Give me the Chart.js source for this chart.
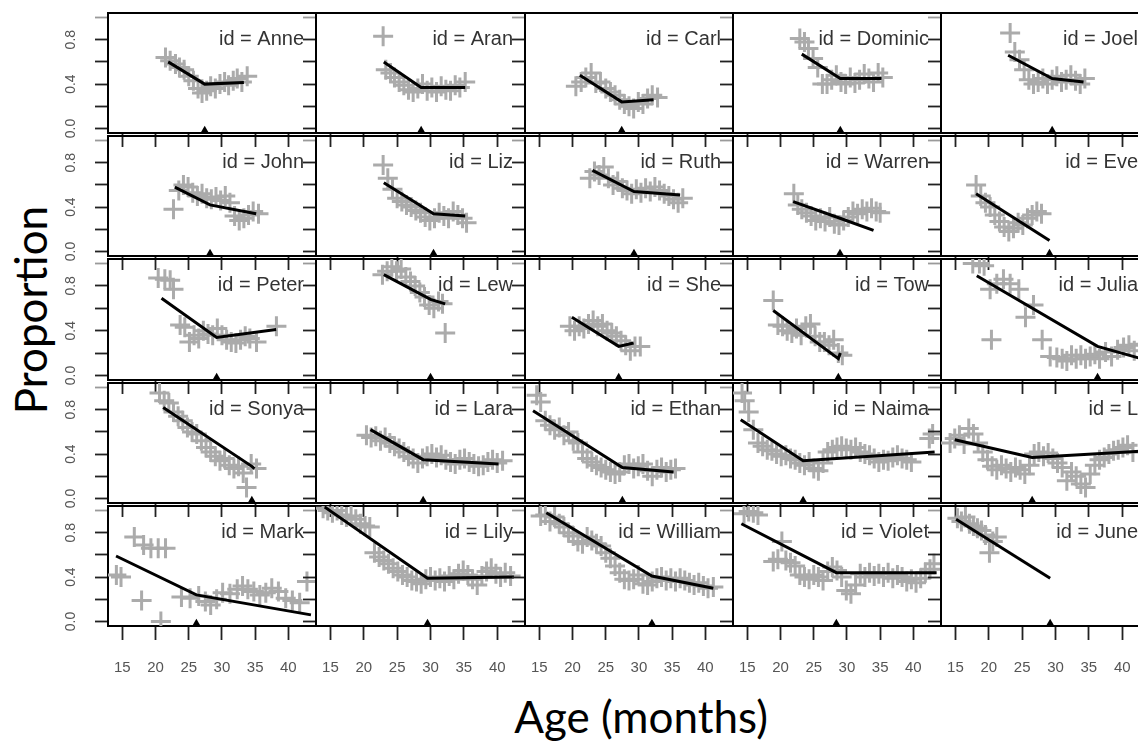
<!DOCTYPE html>
<html>
<head>
<meta charset="utf-8">
<title>Proportion by age, per child</title>
<script src="https://cdn.jsdelivr.net/npm/chart.js@4.4.1/dist/chart.umd.min.js"></script>
<style>
  html, body { margin: 0; padding: 0; background: #fff; }
  #wrap { position: relative; width: 1138px; height: 744px; overflow: hidden; background: #fff; }
  canvas.panel { position: absolute; }
  .axis-title { position: absolute; font-family: Lato, "Open Sans", sans-serif; font-size: 44px; line-height: 1; color: #000; white-space: nowrap; }
  #xTitle { left: 641px; top: 694px; transform: translateX(-50%); }
  #yTitle { left: 30px; top: 310px; transform: translate(-50%, -50%) rotate(-90deg); }
</style>
</head>
<body>
<div id="wrap">
  <div id="yTitle" class="axis-title">Proportion</div>
  <div id="xTitle" class="axis-title">Age (months)</div>
</div>
<script>
// Children, in panel order (left to right, top to bottom)
const ids = ['Anne', 'Aran', 'Carl', 'Dominic', 'Joel',
             'John', 'Liz', 'Ruth', 'Warren', 'Eve',
             'Peter', 'Lew', 'She', 'Tow', 'Julia',
             'Sonya', 'Lara', 'Ethan', 'Naima', 'L',
             'Mark', 'Lily', 'William', 'Violet', 'June'];

// Observed [age in months, proportion] for each child
const idAnne = [[21.5,0.64],[22.2,0.61],[23.0,0.58],[23.6,0.55],[24.3,0.53],[25.0,0.47],[25.7,0.43],[26.4,0.36],[27.0,0.32],[27.7,0.34],[28.3,0.38],[29.0,0.36],[29.7,0.40],[30.4,0.42],[31.0,0.39],[31.7,0.43],[32.3,0.45],[33.0,0.42],[33.8,0.47]];
const idAran = [[22.9,0.83],[23.3,0.53],[24.0,0.50],[24.6,0.46],[25.3,0.42],[26.0,0.39],[26.7,0.35],[27.4,0.33],[28.1,0.36],[28.8,0.40],[29.5,0.34],[30.2,0.37],[30.9,0.33],[31.6,0.38],[32.3,0.35],[33.0,0.34],[33.7,0.39],[34.4,0.37],[35.2,0.42]];
const idCarl = [[20.5,0.38],[21.3,0.42],[22.0,0.46],[22.8,0.50],[23.5,0.41],[24.2,0.42],[25.0,0.36],[25.7,0.33],[26.4,0.30],[27.1,0.26],[27.8,0.22],[28.5,0.20],[29.2,0.18],[29.9,0.24],[30.6,0.22],[31.3,0.27],[32.0,0.30],[32.8,0.28]];
const idDominic = [[22.9,0.81],[23.6,0.78],[24.2,0.72],[24.9,0.63],[25.6,0.55],[26.3,0.40],[27.0,0.40],[27.7,0.44],[28.4,0.48],[29.1,0.42],[29.8,0.40],[30.5,0.46],[31.2,0.41],[31.9,0.44],[32.6,0.49],[33.3,0.45],[34.0,0.42],[34.7,0.50],[35.4,0.46]];
const idJoel = [[23.2,0.86],[23.9,0.69],[24.6,0.62],[25.3,0.53],[26.0,0.44],[26.7,0.40],[27.4,0.42],[28.1,0.45],[28.8,0.40],[29.5,0.44],[30.2,0.47],[30.9,0.42],[31.6,0.44],[32.3,0.48],[33.0,0.43],[33.7,0.40],[34.4,0.45]];
const idJohn = [[22.7,0.38],[23.5,0.55],[24.2,0.60],[24.9,0.58],[25.6,0.53],[26.3,0.50],[27.0,0.52],[27.7,0.48],[28.4,0.47],[29.1,0.49],[29.8,0.46],[30.5,0.50],[31.2,0.44],[31.9,0.32],[32.6,0.28],[33.3,0.30],[34.0,0.33],[34.7,0.36],[35.5,0.34]];
const idLiz = [[22.9,0.78],[23.6,0.66],[24.3,0.56],[25.0,0.48],[25.7,0.45],[26.4,0.42],[27.1,0.40],[27.8,0.37],[28.5,0.35],[29.2,0.31],[29.9,0.28],[30.6,0.30],[31.3,0.35],[32.0,0.32],[32.7,0.30],[33.4,0.36],[34.1,0.33],[34.8,0.30],[35.4,0.26]];
const idRuth = [[22.6,0.66],[23.3,0.72],[24.0,0.69],[24.7,0.76],[25.4,0.66],[26.1,0.60],[26.8,0.63],[27.5,0.57],[28.2,0.55],[28.9,0.52],[29.6,0.56],[30.3,0.53],[31.0,0.57],[31.7,0.54],[32.4,0.58],[33.1,0.55],[33.8,0.52],[34.5,0.50],[35.2,0.47],[35.9,0.44],[36.6,0.48]];
const idWarren = [[22.0,0.52],[22.6,0.42],[23.2,0.38],[23.9,0.35],[24.6,0.32],[25.3,0.28],[26.0,0.30],[26.7,0.27],[27.4,0.31],[28.1,0.25],[28.8,0.24],[29.5,0.28],[30.2,0.31],[30.9,0.36],[31.6,0.34],[32.3,0.38],[33.0,0.36],[33.7,0.39],[34.4,0.36],[35.0,0.35]];
const idEve = [[18.1,0.60],[18.8,0.50],[19.5,0.44],[20.2,0.40],[20.9,0.33],[21.6,0.27],[22.3,0.22],[23.0,0.18],[23.7,0.21],[24.4,0.26],[25.1,0.24],[25.8,0.30],[26.5,0.33],[27.2,0.36],[27.9,0.34]];
const idPeter = [[20.4,0.87],[21.4,0.86],[22.2,0.85],[22.7,0.77],[23.7,0.45],[24.4,0.43],[25.1,0.30],[25.8,0.36],[26.5,0.33],[27.2,0.40],[27.9,0.37],[28.6,0.36],[29.3,0.42],[30.0,0.36],[30.7,0.32],[31.4,0.30],[32.1,0.29],[32.8,0.32],[33.5,0.35],[34.2,0.33],[35.2,0.30],[38.2,0.44]];
const idLew = [[22.8,0.90],[23.5,0.93],[24.2,0.97],[24.9,0.93],[25.6,0.95],[26.3,0.88],[27.0,0.84],[27.7,0.80],[28.4,0.74],[29.1,0.70],[29.8,0.63],[30.5,0.60],[31.2,0.66],[31.8,0.64],[32.2,0.38]];
const idShe = [[19.6,0.44],[20.3,0.40],[21.0,0.44],[21.7,0.42],[22.4,0.46],[23.1,0.49],[23.8,0.44],[24.5,0.46],[25.2,0.40],[25.9,0.38],[26.6,0.35],[27.3,0.31],[28.0,0.27],[28.7,0.22],[29.4,0.26],[30.2,0.26]];
const idTow = [[18.9,0.67],[19.6,0.45],[20.3,0.44],[21.0,0.40],[21.7,0.38],[22.4,0.42],[23.1,0.36],[23.8,0.44],[24.5,0.46],[25.2,0.35],[25.9,0.30],[26.6,0.30],[27.3,0.27],[28.0,0.32],[28.7,0.20],[29.3,0.18]];
const idJulia = [[17.6,1.00],[18.6,1.00],[19.3,0.98],[20.2,0.77],[20.4,0.32],[21.2,0.82],[22.2,0.86],[23.2,0.82],[24.5,0.77],[25.5,0.52],[26.7,0.63],[28.0,0.32],[29.2,0.17],[30.2,0.16],[31.0,0.15],[31.7,0.13],[32.4,0.18],[33.1,0.15],[33.8,0.18],[34.5,0.15],[35.2,0.17],[35.9,0.19],[36.6,0.15],[37.5,0.21],[38.4,0.17],[39.3,0.23],[40.2,0.25],[41.0,0.27],[41.8,0.22],[42.6,0.28]];
const idSonya = [[20.6,0.95],[21.3,0.88],[22.0,0.86],[22.7,0.78],[23.4,0.74],[24.1,0.70],[24.8,0.64],[25.5,0.60],[26.2,0.58],[26.9,0.52],[27.6,0.46],[28.3,0.42],[29.0,0.38],[29.7,0.34],[30.4,0.36],[31.1,0.30],[31.8,0.27],[32.5,0.29],[33.2,0.23],[33.7,0.10],[34.4,0.31],[35.2,0.27]];
const idLara = [[20.4,0.57],[21.1,0.55],[21.8,0.56],[22.5,0.52],[23.2,0.55],[23.9,0.50],[24.6,0.47],[25.3,0.45],[26.0,0.42],[26.7,0.38],[27.4,0.36],[28.1,0.32],[28.8,0.36],[29.5,0.38],[30.2,0.40],[30.9,0.37],[31.6,0.39],[32.3,0.35],[33.0,0.33],[33.7,0.31],[34.4,0.35],[35.1,0.36],[35.8,0.33],[36.5,0.31],[37.2,0.29],[37.9,0.30],[38.6,0.33],[39.3,0.35],[40.0,0.32],[40.8,0.34]];
const idEthan = [[14.6,0.93],[15.2,0.87],[15.9,0.70],[16.6,0.66],[17.3,0.62],[18.0,0.64],[18.7,0.57],[19.4,0.60],[20.1,0.52],[20.8,0.50],[21.5,0.42],[22.2,0.36],[22.9,0.33],[23.6,0.30],[24.3,0.28],[25.0,0.26],[25.7,0.24],[26.4,0.22],[27.1,0.24],[27.8,0.30],[28.5,0.31],[29.2,0.27],[29.9,0.29],[30.6,0.31],[31.3,0.25],[32.0,0.20],[32.7,0.26],[33.4,0.28],[34.1,0.24],[34.8,0.26],[35.5,0.27]];
const idNaima = [[14.2,0.95],[14.6,0.88],[15.2,0.78],[15.9,0.62],[16.6,0.50],[17.3,0.47],[18.0,0.44],[18.7,0.43],[19.4,0.40],[20.1,0.38],[20.8,0.39],[21.5,0.36],[22.2,0.35],[22.9,0.32],[23.6,0.30],[24.3,0.33],[25.0,0.27],[25.7,0.25],[26.4,0.32],[27.1,0.42],[27.8,0.44],[28.5,0.46],[29.2,0.47],[29.9,0.45],[30.6,0.44],[31.3,0.46],[32.0,0.42],[32.7,0.40],[33.4,0.39],[34.1,0.36],[34.8,0.33],[35.5,0.35],[36.2,0.34],[36.9,0.37],[37.6,0.39],[38.3,0.36],[39.0,0.35],[39.7,0.33],[42.4,0.54],[42.9,0.58]];
const idL = [[14.2,0.50],[14.9,0.54],[15.6,0.57],[16.3,0.49],[17.0,0.63],[17.7,0.58],[18.4,0.50],[19.1,0.42],[19.8,0.35],[20.5,0.29],[21.2,0.26],[21.9,0.30],[22.6,0.27],[23.3,0.24],[24.0,0.28],[24.7,0.26],[25.4,0.22],[26.1,0.30],[26.8,0.40],[27.5,0.42],[28.2,0.38],[28.9,0.41],[29.6,0.36],[30.3,0.32],[31.0,0.28],[31.7,0.16],[32.4,0.24],[33.1,0.20],[33.8,0.13],[34.5,0.10],[35.2,0.22],[35.9,0.30],[36.6,0.35],[37.3,0.37],[38.0,0.40],[38.7,0.43],[39.4,0.44],[40.1,0.46],[40.8,0.48],[41.6,0.42]];
const idMark = [[14.1,0.42],[14.8,0.40],[16.8,0.76],[18.2,0.69],[19.3,0.66],[20.4,0.66],[21.5,0.66],[17.9,0.19],[20.8,0.00],[23.9,0.22],[25.2,0.21],[26.5,0.23],[27.5,0.18],[28.3,0.15],[29.2,0.20],[30.1,0.26],[31.2,0.25],[32.3,0.29],[33.1,0.32],[33.9,0.29],[34.8,0.27],[35.7,0.24],[36.6,0.26],[37.5,0.30],[38.5,0.27],[39.6,0.21],[40.6,0.19],[41.7,0.17],[42.8,0.36]];
const idLily = [[13.9,1.02],[14.6,1.00],[15.3,0.98],[16.0,1.00],[16.7,0.96],[17.4,0.94],[18.1,0.95],[18.8,0.92],[19.5,0.88],[20.2,0.86],[20.9,0.85],[21.6,0.62],[22.3,0.58],[23.0,0.55],[23.7,0.52],[24.4,0.48],[25.1,0.45],[25.8,0.42],[26.5,0.40],[27.2,0.37],[27.9,0.36],[28.6,0.34],[29.3,0.38],[30.0,0.40],[30.7,0.37],[31.4,0.39],[32.1,0.36],[32.8,0.41],[33.5,0.38],[34.2,0.43],[34.9,0.46],[35.6,0.42],[36.3,0.38],[37.0,0.33],[37.7,0.41],[38.4,0.45],[39.1,0.48],[39.8,0.43],[40.5,0.40],[41.2,0.44],[42.0,0.41]];
const idWilliam = [[15.2,0.95],[15.9,0.96],[16.6,0.90],[17.3,0.94],[18.0,0.88],[18.7,0.85],[19.4,0.80],[20.1,0.77],[20.8,0.72],[21.5,0.70],[22.2,0.76],[22.9,0.73],[23.6,0.70],[24.3,0.68],[25.0,0.62],[25.7,0.57],[26.4,0.50],[27.1,0.44],[27.8,0.38],[28.5,0.37],[29.2,0.38],[29.9,0.42],[30.6,0.34],[31.3,0.33],[32.0,0.36],[32.7,0.39],[33.4,0.40],[34.1,0.37],[34.8,0.39],[35.5,0.36],[36.2,0.39],[36.9,0.37],[37.6,0.35],[38.3,0.33],[39.0,0.35],[39.7,0.32],[40.4,0.30],[41.2,0.31]];
const idViolet = [[14.5,0.97],[15.2,0.99],[15.9,0.98],[16.6,0.96],[18.9,0.54],[19.6,0.56],[20.2,0.72],[20.8,0.55],[21.5,0.53],[22.2,0.50],[22.9,0.42],[23.6,0.40],[24.3,0.38],[25.0,0.42],[25.7,0.40],[26.4,0.37],[27.1,0.45],[27.8,0.49],[28.5,0.46],[29.2,0.40],[29.9,0.28],[30.6,0.25],[31.3,0.33],[32.0,0.43],[32.7,0.40],[33.4,0.44],[34.1,0.41],[34.8,0.43],[35.5,0.40],[36.2,0.44],[36.9,0.39],[37.6,0.42],[38.3,0.40],[39.0,0.36],[39.7,0.38],[40.4,0.35],[41.1,0.39],[41.8,0.44],[42.5,0.47],[43.1,0.52]];
const idJune = [[15.3,0.93],[15.9,0.90],[16.5,0.94],[17.1,0.88],[17.7,0.86],[18.3,0.84],[18.9,0.82],[19.5,0.78],[20.1,0.62],[20.6,0.72],[21.2,0.76]];

// Piecewise-linear fit per child: first age, breakpoint age, last age with fitted proportions
const fitStart = [[21.9,0.60],[23.0,0.60],[21.1,0.48],[23.2,0.67],[22.9,0.66],
                  [22.9,0.58],[23.0,0.62],[23.0,0.73],[21.9,0.45],[18.1,0.52],
                  [20.9,0.69],[23.0,0.90],[19.9,0.52],[18.9,0.58],[18.2,0.89],
                  [21.15,0.82],[21.0,0.62],[14.05,0.79],[14.0,0.71],[14.9,0.53],
                  [14.05,0.59],[14.15,1.03],[16.05,0.98],[14.1,0.88],[15.1,0.92]];
const fitBreak = [[27.4,0.40],[28.6,0.37],[27.4,0.24],[29.0,0.45],[29.5,0.45],
                  [28.2,0.42],[30.45,0.34],[29.25,0.54],[28.95,0.30],[29.1,0.10],
                  [29.2,0.34],[30.0,0.68],[26.95,0.26],[28.7,0.15],[36.3,0.26],
                  [34.5,0.29],[28.9,0.35],[27.5,0.28],[23.4,0.34],[26.5,0.37],
                  [26.15,0.24],[29.55,0.39],[31.95,0.41],[28.4,0.44],[29.2,0.39]];
const fitEnd = [[33.3,0.415],[35.2,0.37],[32.2,0.26],[35.2,0.45],[34.2,0.42],
                [35.15,0.34],[35.2,0.32],[36.2,0.51],[34.0,0.19],[29.1,0.10],
                [38.15,0.41],[32.2,0.64],[29.2,0.29],[29.0,0.20],[43.5,0.14],
                [34.9,0.27],[40.2,0.31],[35.2,0.24],[43.2,0.42],[44.0,0.43],
                [43.4,0.06],[42.5,0.40],[41.2,0.30],[43.5,0.44],[29.2,0.39]];

// Axis ticks and labels
const ageTicks = [15, 20, 25, 30, 35, 40];
const propTicks = [0, 0.2, 0.4, 0.6, 0.8, 1.0];
const propLabelled = [0, 0.4, 0.8];

const observations = [idAnne, idAran, idCarl, idDominic, idJoel,
                      idJohn, idLiz, idRuth, idWarren, idEve,
                      idPeter, idLew, idShe, idTow, idJulia,
                      idSonya, idLara, idEthan, idNaima, idL,
                      idMark, idLily, idWilliam, idViolet, idJune];

// Shared axis ranges (data range padded by 4% on each side)
const AGE_MIN = 12.84, AGE_MAX = 44.16;
const PROP_MIN = -0.04, PROP_MAX = 1.04;

// Panel grid geometry
const GRID = { left: 108, top: 10, w: 208.3, h: 123.2, cols: 5, rows: 5 };
const MARGIN = { l: 60, t: 10, r: 20, b: 60 };
const FONT = "'Liberation Sans', Arial, sans-serif";

// Give every axis a fixed thickness and no label overhang, so all panels line up
const fixSize = (prop, size) => s => {
  s[prop] = size;
  s.paddingTop = s.paddingBottom = s.paddingLeft = s.paddingRight = 0;
};

const wrap = document.getElementById('wrap');
const xy = p => ({ x: p[0], y: p[1] });

ids.forEach((name, k) => {
  const r = Math.floor(k / GRID.cols), c = k % GRID.cols;
  const x0 = Math.round(GRID.left + c * GRID.w), x1 = Math.round(GRID.left + (c + 1) * GRID.w);
  const y0 = Math.round(GRID.top + r * GRID.h), y1 = Math.round(GRID.top + (r + 1) * GRID.h);
  const cv = document.createElement('canvas');
  cv.className = 'panel';
  cv.width = x1 - x0 + MARGIN.l + MARGIN.r;
  cv.height = y1 - y0 + MARGIN.t + MARGIN.b;
  cv.style.left = (x0 - MARGIN.l) + 'px';
  cv.style.top = (y0 - MARGIN.t) + 'px';
  wrap.appendChild(cv);

  const frame = { display: true, color: '#000', width: 2 };
  new Chart(cv, {
    type: 'scatter',
    data: {
      datasets: [
        { label: 'fit', data: [fitStart[k], fitBreak[k], fitEnd[k]].map(xy), showLine: true,
          borderColor: '#000', borderWidth: 3, pointRadius: 0, order: 1 },
        { label: 'breakpoint', data: [{ x: fitBreak[k][0], y: -0.02 }], pointStyle: 'triangle',
          pointRadius: 5, backgroundColor: '#000', borderColor: '#000', borderWidth: 0, order: 0, clip: false },
        { label: 'observed', data: observations[k].map(xy), pointStyle: 'cross', pointRadius: 10,
          borderColor: '#ababab', borderWidth: 3, order: 2, clip: 0 }
      ]
    },
    options: {
      responsive: false, animation: false, devicePixelRatio: 1, events: [],
      layout: { padding: { left: 0, top: MARGIN.t, right: MARGIN.r, bottom: 0 } },
      plugins: { legend: { display: false }, tooltip: { enabled: false } },
      scales: {
        x: {
          type: 'linear', axis: 'x', position: 'bottom', min: AGE_MIN, max: AGE_MAX,
          afterBuildTicks: s => { s.ticks = ageTicks.map(v => ({ value: v })); },
          afterFit: fixSize('height', MARGIN.b),
          grid: { drawOnChartArea: false, drawTicks: true, tickLength: 14, tickColor: '#222', tickWidth: 1.8 },
          border: frame,
          ticks: { display: r === GRID.rows - 1, autoSkip: false, maxRotation: 0, padding: 19,
                   color: '#555', font: { family: FONT, size: 15 } }
        },
        y: {
          type: 'linear', axis: 'y', position: 'left', min: PROP_MIN, max: PROP_MAX,
          afterBuildTicks: s => { s.ticks = propTicks.map(v => ({ value: v })); },
          afterFit: fixSize('width', MARGIN.l),
          grid: { drawOnChartArea: false, drawTicks: true, tickLength: 13, tickWidth: 1.8,
                  tickColor: ctx => (ctx.tick && ctx.tick.value === 1 ? '#9a9a9a' : '#222') },
          border: frame,
          ticks: { display: c === 0, autoSkip: false, minRotation: 90, maxRotation: 90, crossAlign: 'center',
                   padding: 14, color: '#555', font: { family: FONT, size: 14 },
                   callback: v => (propLabelled.includes(v) ? v.toFixed(1) : '') }
        },
        xTop: {
          type: 'linear', axis: 'x', position: 'top', min: AGE_MIN, max: AGE_MAX,
          afterFit: fixSize('height', 0),
          grid: { drawOnChartArea: false, drawTicks: false },
          border: frame,
          ticks: { display: false }
        },
        yRight: {
          type: 'linear', axis: 'y', position: 'right', min: PROP_MIN, max: PROP_MAX,
          afterBuildTicks: s => { s.ticks = [{ value: 0.8 }]; },
          afterFit: fixSize('width', 0),
          grid: { drawOnChartArea: false, drawTicks: false },
          border: frame,
          ticks: { mirror: true, padding: -12, autoSkip: false, color: '#333',
                   font: { family: FONT, size: 20 }, callback: () => 'id = ' + name }
        }
      }
    }
  });
});
</script>
</body>
</html>
